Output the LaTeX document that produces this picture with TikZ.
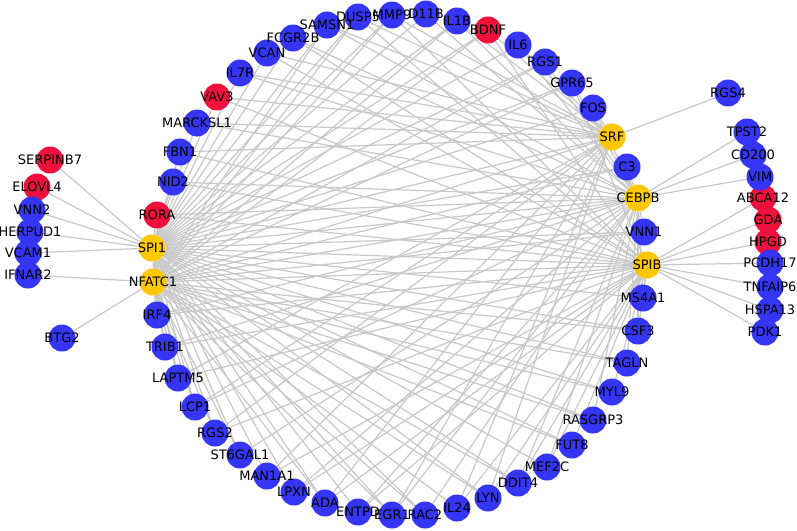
\documentclass[tikz,border=0pt]{standalone}
\usepackage{fontspec}
\setmainfont{DejaVu Sans}
\definecolor{nblue}{RGB}{53,53,245}
\definecolor{nred}{RGB}{240,16,60}
\definecolor{nyel}{RGB}{255,200,0}
\definecolor{edgec}{RGB}{200,200,200}
\pgfdeclarelayer{bg}
\pgfdeclarelayer{paper}
\pgfsetlayers{paper,bg,main}
\begin{document}
\begin{tikzpicture}[x=1pt,y=-1pt,
  gnode/.style={circle,inner sep=0pt,minimum size=27pt,draw=none},
  bnode/.style={gnode,fill=nblue},
  rnode/.style={gnode,fill=nred},
  ynode/.style={gnode,fill=nyel},
  lbl/.style={font=\fontsize{13}{13}\selectfont,inner sep=0pt,text=black},
  elink/.style={draw=edgec,line width=1.2pt}]
\begin{pgfonlayer}{paper}
\fill[white] (0,0) rectangle (797,530);
\end{pgfonlayer}
\useasboundingbox (0,0) rectangle (797,530);
% hubs
\foreach \n/\x/\y in {SPI1/152/248,NFATC1/153/282,SRF/612/137,CEBPB/638/198,SPIB/647/265}
  \node[ynode] (\n) at (\x,\y) {};
% red nodes
\foreach \n/\x/\y in {SERPINB7/50/160,ELOVL4/37/187,RORA/157/215,VAV3/217/97,BDNF/488/30,ABCA12/763/198,GDA/768/220,HPGD/768/242}
  \node[rnode] (\n) at (\x,\y) {};
% blue nodes
\foreach \n/\x/\y in {MARCKSL1/197/123,FBN1/180/152,NID2/173/182,IRF4/157/315,TRIB1/165/347,LAPTM5/178/378,
  LCP1/195/407,RGS2/215/433,ST6GAL1/240/455,MAN1A1/267/476,LPXN/294/492,ADA/325/503,ENTPD/358/512,
  EGR1/392/515,RAC2/425/515,IL24/457/508,LYN/488/498,DDIT4/518/483,MEF2C/547/467,FUT8/572/445,
  RASGRP3/593/420,MYL9/612/392,TAGLN/627/363,CSF3/638/331,MS4A1/643/298,VNN1/644/232,C3/627/167,
  FOS/593/108,GPR65/572/83,RGS1/545/62,IL6/518/45,IL1B/457/21,D11B/426/14,MMP9/392/15,DUSP5/358/17,
  SAMSN1/327/25,FCGR2B/293/38,VCAN/267/53,IL7R/240/73,
  RGS4/728/93,TPST2/747/132,CD200/753/155,VIM/760/177,PCDH17/770/263,TNFAIP6/770/287,HSPA13/770/310,PDK1/765/332,
  VNN2/32/210,HERPUD1/30/232,VCAM1/28/253,IFNAR2/28/275,BTG2/62/338}
  \node[bnode] (\n) at (\x,\y) {};
% edges
\begin{pgfonlayer}{bg}
\foreach \t in {SERPINB7,ELOVL4,VNN2,HERPUD1,VCAM1,
  VAV3,IL7R,VCAN,FCGR2B,SAMSN1,DUSP5,MMP9,D11B,IL1B,BDNF,IL6,RGS1,GPR65,FOS,C3,VNN1,MS4A1,CSF3,TAGLN,MYL9,
  RASGRP3,FUT8,MEF2C,DDIT4,LYN,RAC2,EGR1,ENTPD,ADA,LPXN,MAN1A1,ST6GAL1,RGS2,LCP1,LAPTM5,TRIB1,IRF4,RORA,NID2,FBN1,MARCKSL1,SRF,CEBPB,SPIB}
  \draw[elink] (SPI1) -- (\t);
\foreach \t in {IFNAR2,BTG2,IL1B,MMP9,DUSP5,SAMSN1,BDNF,RGS1,GPR65,C3,VNN1,CSF3,TAGLN,MYL9,RASGRP3,FUT8,DDIT4,LYN,IL24,
  RAC2,EGR1,ADA,ST6GAL1,RGS2,LCP1,LAPTM5,TRIB1,IRF4,SRF,CEBPB,SPIB}
  \draw[elink] (NFATC1) -- (\t);
\foreach \t in {RGS4,MARCKSL1,FBN1,VAV3,IL7R,VCAN,SAMSN1,DUSP5,MMP9,IL1B,BDNF,IL6,FOS,EGR1,LYN,IL24,LCP1,LAPTM5,RGS2,ADA,MAN1A1}
  \draw[elink] (SRF) -- (\t);
\foreach \t in {TPST2,CD200,VIM,MARCKSL1,NID2,RORA,IL7R,FCGR2B,SAMSN1,D11B,IL1B,IL6,RGS1,GPR65,FOS,C3,VNN1,MS4A1,CSF3,
  TAGLN,RASGRP3,MEF2C,DDIT4,RAC2,EGR1,ENTPD,LPXN,ST6GAL1,TRIB1,IRF4,LCP1}
  \draw[elink] (CEBPB) -- (\t);
\foreach \t in {ABCA12,GDA,HPGD,PCDH17,TNFAIP6,HSPA13,PDK1,FBN1,NID2,RORA,VAV3,VCAN,FCGR2B,DUSP5,MMP9,BDNF,GPR65,MS4A1,
  CSF3,MYL9,FUT8,MEF2C,DDIT4,LYN,IL24,ENTPD,ADA,LPXN,MAN1A1,RGS2,LAPTM5,TRIB1,IRF4}
  \draw[elink] (SPIB) -- (\t);
\end{pgfonlayer}
% labels
\foreach \n in {SPI1,NFATC1,SRF,CEBPB,SPIB,SERPINB7,ELOVL4,RORA,VAV3,BDNF,ABCA12,GDA,HPGD,
  MARCKSL1,FBN1,NID2,IRF4,TRIB1,LAPTM5,LCP1,RGS2,ST6GAL1,MAN1A1,LPXN,ADA,ENTPD,EGR1,RAC2,IL24,LYN,DDIT4,
  MEF2C,FUT8,RASGRP3,MYL9,TAGLN,CSF3,MS4A1,VNN1,C3,FOS,GPR65,RGS1,IL6,IL1B,D11B,MMP9,DUSP5,SAMSN1,FCGR2B,
  VCAN,IL7R,RGS4,TPST2,CD200,VIM,PCDH17,TNFAIP6,HSPA13,PDK1,VNN2,HERPUD1,VCAM1,IFNAR2,BTG2}
  \node[lbl] at (\n) {\n};
\end{tikzpicture}
\end{document}
